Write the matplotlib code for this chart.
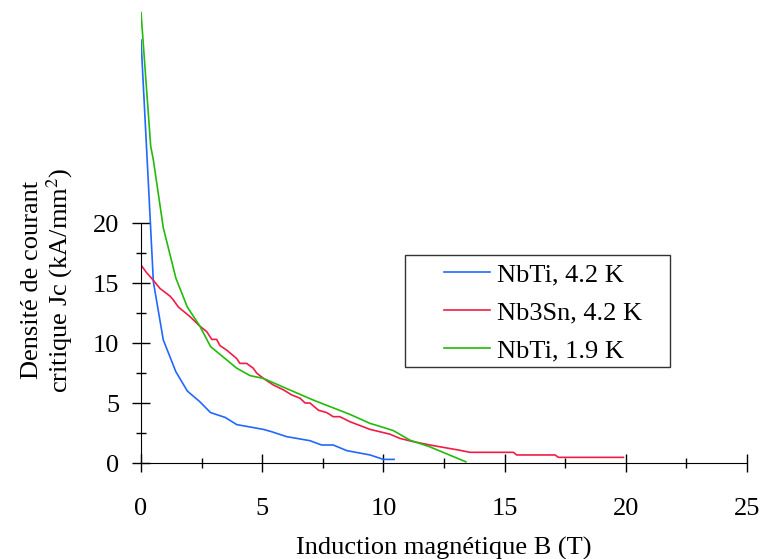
"""Critical current density vs magnetic field for NbTi and Nb3Sn"""

import matplotlib
matplotlib.use('Agg')
import matplotlib.pyplot as plt
import matplotlib.patches as mpatches
from matplotlib.ticker import MultipleLocator

plt.rcParams['font.family'] = ['Liberation Serif', 'DejaVu Serif']
plt.rcParams['mathtext.fontset'] = 'stix'

# NbTi, 4.2 K
b_nbti_42 = [0, 0.34, 0.51, 0.92, 1.44, 1.91, 2.43, 2.87, 3.47, 3.95, 5.05, 5.4,
             6.0, 6.97, 7.45, 7.93, 8.49, 9.45, 10.0, 10.44]
j_nbti_42 = [35.25, 21.9, 15.1, 10.25, 7.6, 6.0, 5.1, 4.2, 3.8, 3.2, 2.8, 2.6,
             2.2, 1.86, 1.5, 1.5, 1.03, 0.67, 0.3, 0.3]

# Nb3Sn, 4.2 K
b_nb3sn = [0, 0.23, 0.5, 0.78, 1.2, 1.33, 1.54, 2.02, 2.43, 2.71, 2.92, 3.12,
           3.26, 3.54, 3.95, 4.08, 4.36, 4.63, 4.77, 5.05, 5.46, 5.87, 6.22,
           6.56, 6.77, 6.97, 7.32, 7.66, 7.93, 8.2, 8.62, 9.45, 9.86, 10.27,
           10.68, 11.23, 11.92, 12.7, 13.1, 13.57, 15.36, 15.5, 17.08, 17.22, 19.9]
j_nb3sn = [16.5, 15.86, 15.25, 14.55, 13.9, 13.6, 13.0, 12.2, 11.4, 10.95, 10.3, 10.3,
           9.78, 9.4, 8.7, 8.3, 8.3, 7.9, 7.5, 7.05, 6.5, 6.1, 5.67,
           5.4, 5.0, 5.0, 4.4, 4.2, 3.86, 3.86, 3.44, 2.8, 2.6, 2.4,
           2.05, 1.78, 1.5, 1.22, 1.08, 0.89, 0.89, 0.67, 0.67, 0.47, 0.47]

# NbTi, 1.9 K
b_nbti_19 = [0, 0.4, 0.51, 0.92, 1.44, 1.91, 2.43, 2.87, 3.47, 3.95, 4.5, 5.05,
             6.01, 7.1, 8.62, 9.45, 9.86, 10.41, 11.1, 11.9, 13.4]
j_nbti_19 = [37.55, 26.4, 25.25, 19.6, 15.4, 13.0, 11.4, 9.7, 8.7, 7.9, 7.28, 7.05,
             6.2, 5.25, 4.05, 3.3, 3.05, 2.7, 1.9, 1.36, 0.1]

labels = ['NbTi, 4.2 K', 'Nb3Sn, 4.2 K', 'NbTi, 1.9 K']
colors = ['#2068ff', '#f01c48', '#22bb0c']

W, H = 760, 559
fs = 19

fig = plt.figure(figsize=(W / 100, H / 100), dpi=100)
ax = fig.add_axes([141 / W, 1 - 463 / H, 606 / W, 453 / H])

series = [(b_nbti_42, j_nbti_42), (b_nb3sn, j_nb3sn), (b_nbti_19, j_nbti_19)]
for (b, j), label, color in zip(series, labels, colors):
    ax.plot(b, j, color=color, linewidth=1.2, label=label)

ax.set_xlim(0, 25)
ax.set_ylim(0, 37.75)
ax.spines['top'].set_visible(False)
ax.spines['right'].set_visible(False)
ax.spines['left'].set_bounds(0, 20)

ax.set_xticks([0, 5, 10, 15, 20, 25])
ax.set_yticks([0, 5, 10, 15, 20])
ax.xaxis.set_minor_locator(MultipleLocator(2.5))
ax.set_yticks([2.5, 7.5, 12.5, 17.5], minor=True)
ax.tick_params(which='major', direction='inout', length=13, width=1.0,
               labelsize=fs, colors='black')
ax.tick_params(which='minor', direction='inout', length=6.5, width=1.0)
ax.tick_params(axis='x', which='major', pad=19)
ax.tick_params(axis='y', which='major', pad=9)

fig.text(48 / W, 1 - 280 / H, 'Densité de courant\ncritique Jc (kA/mm$^2$)',
         rotation=90, ha='center', va='center', multialignment='center',
         fontsize=fs, linespacing=1.05)
fig.text(444 / W, 1 - 555 / H, 'Induction magnétique B (T)',
         ha='center', va='baseline', fontsize=fs)

# legend box drawn separately: the reference has uneven padding
box = mpatches.Rectangle((405 / W, 1 - 367 / H), 265 / W, 112 / H,
                         transform=fig.transFigure, facecolor='white',
                         edgecolor='#333333', linewidth=1.0, zorder=3)
fig.add_artist(box)
leg = fig.legend(loc='upper left', bbox_to_anchor=(444 / W, 1 - 263 / H),
                 fontsize=fs, frameon=False, handlelength=1.74,
                 handletextpad=0.27, borderpad=0, labelspacing=0.55,
                 borderaxespad=0)
leg.set_zorder(4)

fig.savefig('out.png', dpi=100)
